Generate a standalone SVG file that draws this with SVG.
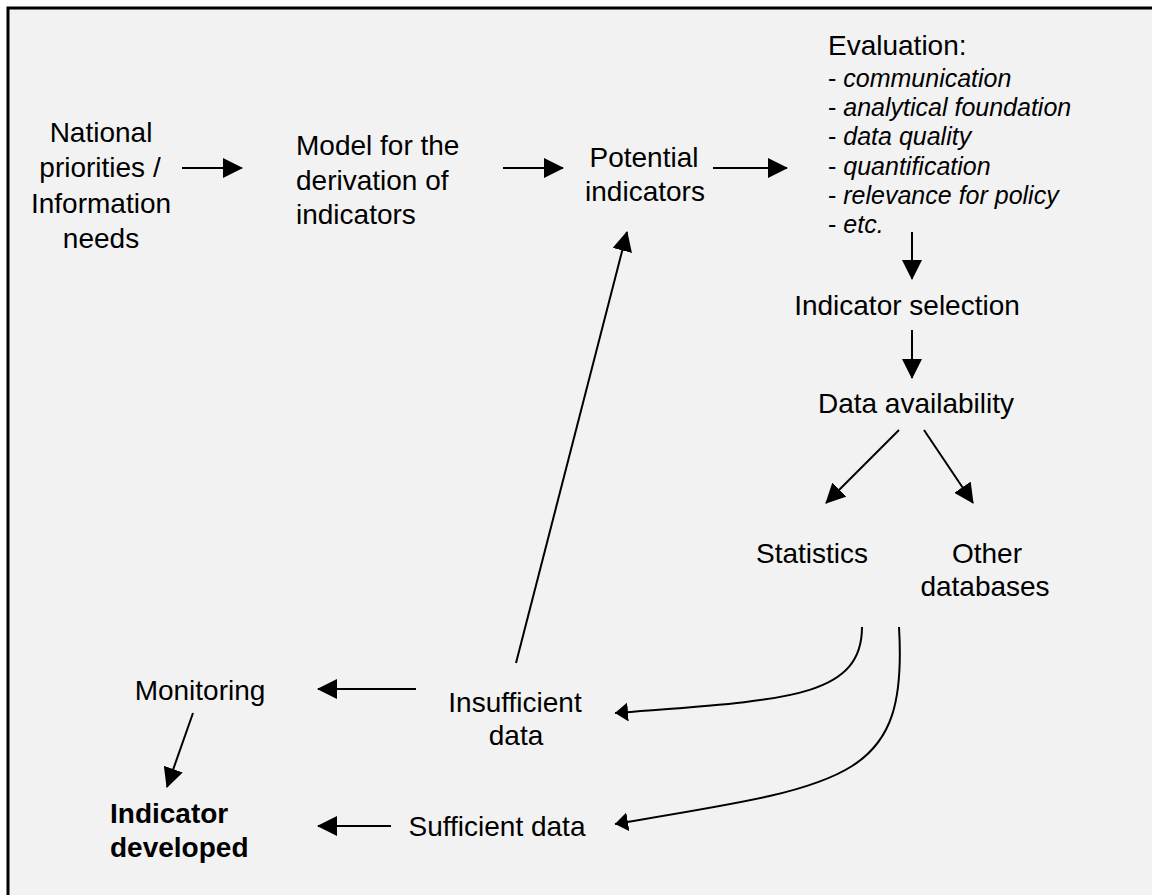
<svg xmlns="http://www.w3.org/2000/svg" width="1152" height="895" viewBox="0 0 1152 895">
  <style>
    text { font-family: "Liberation Sans", Arial, sans-serif; font-size: 28px; fill: #000; }
    .c { text-anchor: middle; }
    .b { font-weight: bold; }
    .ev { font-size: 25px; }
    .it { font-style: italic; }
    .con { stroke: #000; stroke-width: 2; fill: none; }
  </style>
  <defs>
    <marker id="ah" markerUnits="userSpaceOnUse" markerWidth="20" markerHeight="20" refX="19" refY="10" orient="auto">
      <path d="M0,0 L20,10 L0,20 z" fill="#000"/>
    </marker>
    <marker id="ahs" markerUnits="userSpaceOnUse" markerWidth="14" markerHeight="20" refX="13" refY="9.5" orient="auto">
      <path d="M0,0 L13,9.5 L0,19 z" fill="#000"/>
    </marker>
  </defs>
  <rect x="0" y="0" width="1152" height="895" fill="#fff"/>
  <rect x="8" y="8" width="1150" height="893" fill="#f2f2f2" stroke="#000" stroke-width="3"/>

  <g id="connectors">
    <line class="con" x1="182" y1="168" x2="242" y2="168" marker-end="url(#ah)"/>
    <line class="con" x1="503" y1="168" x2="563" y2="168" marker-end="url(#ah)"/>
    <line class="con" x1="713" y1="168" x2="787" y2="168" marker-end="url(#ah)"/>
    <line class="con" x1="912" y1="232" x2="912" y2="279" marker-end="url(#ah)"/>
    <line class="con" x1="912" y1="330" x2="912" y2="378" marker-end="url(#ah)"/>
    <line class="con" x1="899" y1="430" x2="826" y2="503" marker-end="url(#ah)"/>
    <line class="con" x1="924" y1="430" x2="973" y2="503" marker-end="url(#ah)"/>
    <path class="con" d="M862,627 C862,700 780,700 615,713" marker-end="url(#ahs)"/>
    <path class="con" d="M899,627 C908,780 850,785 615,824" marker-end="url(#ahs)"/>
    <line class="con" x1="516" y1="663" x2="627" y2="232" marker-end="url(#ah)"/>
    <line class="con" x1="416" y1="689" x2="318" y2="689" marker-end="url(#ah)"/>
    <line class="con" x1="193" y1="713" x2="167" y2="787" marker-end="url(#ah)"/>
    <line class="con" x1="391" y1="826" x2="318" y2="826" marker-end="url(#ah)"/>
  </g>

  <g id="national">
    <text class="c" x="101" y="142">National</text>
    <text class="c" x="100" y="177">priorities /</text>
    <text class="c" x="101" y="213">Information</text>
    <text class="c" x="101" y="248">needs</text>
  </g>
  <g id="model">
    <text x="296" y="155">Model for the</text>
    <text x="296" y="189.5">derivation of</text>
    <text x="296" y="224">indicators</text>
  </g>
  <g id="potential">
    <text class="c" x="644" y="167">Potential</text>
    <text class="c" x="645" y="201">indicators</text>
  </g>
  <g id="evaluation">
    <text x="828" y="55">Evaluation:</text>
    <text class="ev" x="828" y="86.7">- <tspan class="it">communication</tspan></text>
    <text class="ev" x="828" y="116">- <tspan class="it">analytical foundation</tspan></text>
    <text class="ev" x="828" y="145.3">- <tspan class="it">data quality</tspan></text>
    <text class="ev" x="828" y="174.6">- <tspan class="it">quantification</tspan></text>
    <text class="ev" x="828" y="204">- <tspan class="it">relevance for policy</tspan></text>
    <text class="ev" x="828" y="233.3">- <tspan class="it">etc.</tspan></text>
  </g>
  <g id="selection">
    <text class="c" x="907" y="315">Indicator selection</text>
  </g>
  <g id="availability">
    <text class="c" x="916" y="413">Data availability</text>
  </g>
  <g id="statistics">
    <text class="c" x="812" y="563">Statistics</text>
  </g>
  <g id="other">
    <text class="c" x="987" y="563">Other</text>
    <text class="c" x="985" y="596">databases</text>
  </g>
  <g id="insufficient">
    <text class="c" x="515" y="712">Insufficient</text>
    <text class="c" x="516" y="745">data</text>
  </g>
  <g id="sufficient">
    <text class="c" x="497" y="836">Sufficient data</text>
  </g>
  <g id="monitoring">
    <text class="c" x="200" y="700">Monitoring</text>
  </g>
  <g id="developed">
    <text class="b" x="110" y="823">Indicator</text>
    <text class="b" x="110" y="857">developed</text>
  </g>
</svg>
